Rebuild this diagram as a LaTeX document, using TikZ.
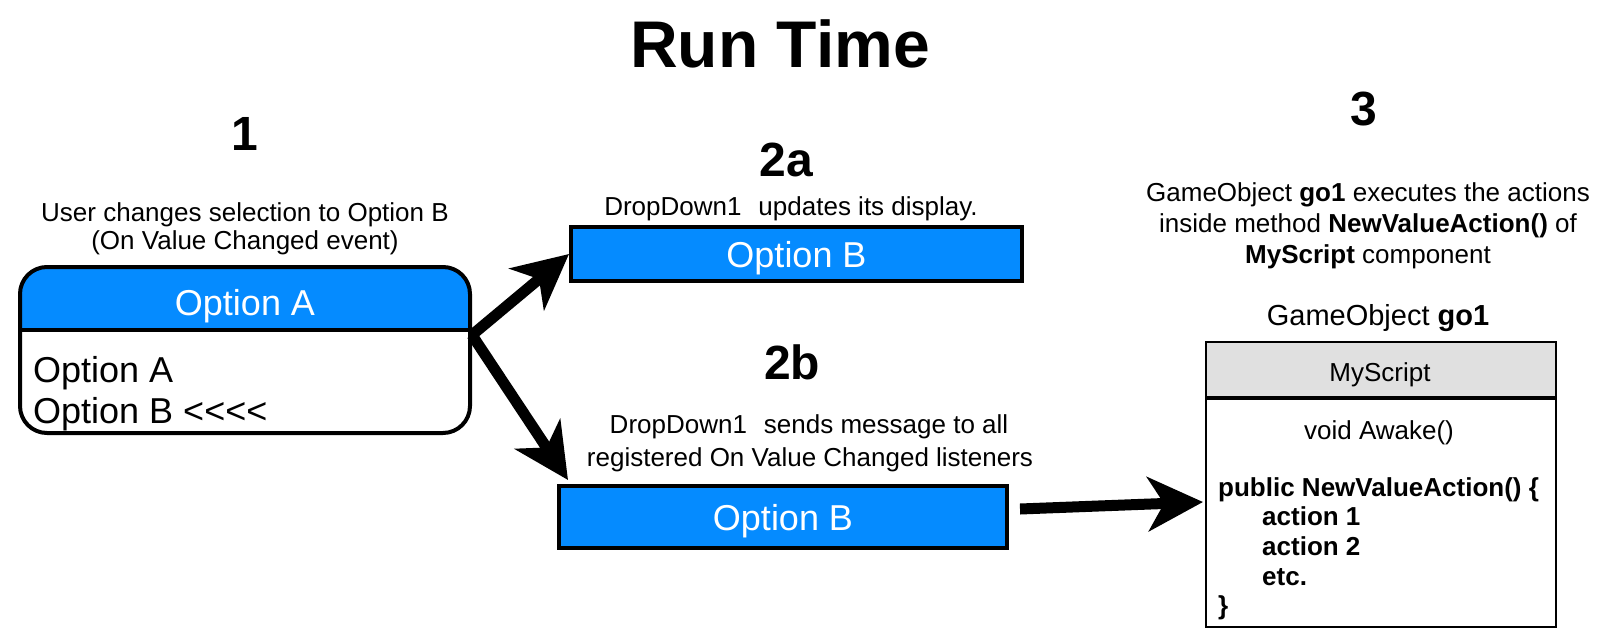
\documentclass[tikz,border=0pt]{standalone}
\usepackage{fontspec}
\setmainfont{Liberation Sans}
\usetikzlibrary{arrows.meta,calc,backgrounds}
\definecolor{optblue}{RGB}{5,139,255}
\definecolor{hdrgray}{RGB}{224,224,224}
\begin{document}
\begin{tikzpicture}[x=1pt,y=-1pt,
  txt/.style={inner sep=0pt, font=\fontsize{26}{30}\selectfont, anchor=base},
  code/.style={inner sep=0pt, font=\bfseries\fontsize{26}{30}\selectfont, anchor=base west},
  head/.style={inner sep=0pt, font=\bfseries\fontsize{48}{52}\selectfont, anchor=base},
  bigtxt/.style={inner sep=0pt, font=\fontsize{36}{40}\selectfont, anchor=base},
  optbox/.style={draw, line width=4pt, fill=optblue, inner sep=0pt, text=white,
    font=\fontsize{36}{40}\selectfont, text depth=0pt},
  bigarrow/.style={line width=11pt, -{Stealth[length=55pt, width=54pt, inset=16pt]}}
]
\useasboundingbox (0,0) rectangle (1605,642);

% title
\node[inner sep=0pt, anchor=base, font=\bfseries\fontsize{66}{70}\selectfont] (title) at (780,67) {Run Time};

% step 1
\node[head] (h1) at (245,150) {1};
\node[txt] (d1a) at (245,221) {User changes selection to Option B};
\node[txt] (d1b) at (245,249) {(On Value Changed event)};
\node[draw, line width=4pt, rounded corners=27pt, minimum width=450pt, minimum height=166pt, inner sep=0pt] (lb) at (245,350) {};
\begin{scope}[on background layer]
  \fill[optblue] (20,330) [rounded corners=27pt] -- (20,267) -- (470,267) [sharp corners] -- (470,330) -- cycle;
\end{scope}
\draw[line width=4pt] (lb.west |- 0,330) -- (lb.east |- 0,330);
\node[bigtxt, text=white] (lbh) at (245,315) {Option A};
\node[bigtxt, anchor=base west] (lbo1) at (33,382) {Option A};
\node[bigtxt, anchor=base west] (lbo2) at (33,423) {Option B <{}<{}<{}<};

% step 2a
\node[head] (h2a) at (786,176) {2a};
\node[txt] (d2a) at (791,215) {DropDown1\hspace{17pt}updates its display.};
\node[optbox, minimum width=451pt, minimum height=54pt] (a2) at (796.5,254) {Option B};

% step 2b
\node[head] (h2b) at (792,379) {2b};
\node[txt] (d2b1) at (809,433) {DropDown1\hspace{17pt}sends message to all};
\node[txt] (d2b2) at (810,466) {registered On Value Changed listeners};
\node[optbox, minimum width=448pt, minimum height=62pt] (b2) at (783,517) {Option B};

% step 3
\node[head] (h3) at (1364,125) {3};
\node[txt] (d3a) at (1368,201) {GameObject \textbf{go1} executes the actions};
\node[txt] (d3b) at (1368,232) {inside method \textbf{NewValueAction()} of};
\node[txt] (d3c) at (1368,263) {\textbf{MyScript} component};
\node[inner sep=0pt, anchor=base, font=\fontsize{29}{32}\selectfont] (gotitle) at (1378,325) {GameObject \textbf{go1}};
\node[draw, line width=2pt, fill=hdrgray, minimum width=350pt, minimum height=55pt, inner sep=0pt] (hdr) at (1381,369.5) {};
\node[draw, line width=2pt, minimum width=350pt, minimum height=228pt, inner sep=0pt, anchor=north] (gobody) at (hdr.south) {};
\node[txt] (ms) at (1380,381) {MyScript};
\node[txt] (aw) at (1379,439) {void Awake()};
\node[code] (c1) at (1218,496) {public NewValueAction() \{};
\node[code] (c2) at (1262,525) {action 1};
\node[code] (c3) at (1262,555) {action 2};
\node[code] (c4) at (1262,585) {etc.};
\node[code] (c5) at (1218,614) {\}};

% connectors
\coordinate (lbout) at ($(lb.east)+(0,-15)$);
\coordinate (b2in) at ($(b2.north west)+(11,-4)$);
\coordinate (b2out) at ($(b2.east)+(11,-8)$);
\coordinate (goin) at ($(gobody.west)+(-2,-11)$);
\draw[bigarrow] (lbout) -- (a2.west);
\draw[bigarrow] (lbout) -- (b2in);
\draw[bigarrow] (b2out) -- (goin);
\end{tikzpicture}
\end{document}
